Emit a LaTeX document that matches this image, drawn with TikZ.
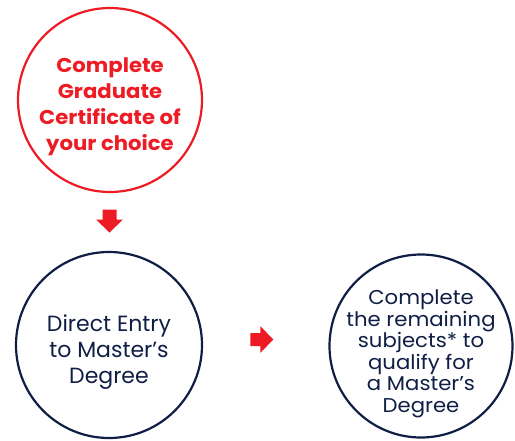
\documentclass[tikz,border=0pt]{standalone}
\usepackage{fontspec}
\setmainfont{Poppins}
\newfontfamily\widebold[FakeStretch=1.06]{Poppins}
\newfontfamily\widereg[FakeStretch=1.06]{Poppins}
\usetikzlibrary{calc}
\definecolor{brandred}{RGB}{237,28,36}
\definecolor{navy}{RGB}{16,30,70}
\begin{document}
\begin{tikzpicture}[x=1pt,y=-1pt,
  stage/.style={circle,draw,line width=2.2pt,inner sep=0pt},
  redstage/.style={stage,draw=brandred,minimum size=184pt},
  navystage/.style={stage,draw=navy},
  stagetext/.style={align=center,inner sep=0pt},
  blockarrow/.style={fill=brandred,draw=none}]
\useasboundingbox (0,0) rectangle (515,440);
\node[redstage] (cert) at (110,100) {};
\node[stagetext,text=brandred,font=\widebold\fontsize{20}{26}\selectfont\bfseries]
  (certtext) at ($(cert.center)+(0,7)$) {Complete\\Graduate\\Certificate of\\your choice};
\node[navystage,minimum size=186pt] (direct) at (109,345) {};
\node[stagetext,text=navy,font=\fontsize{22}{26}\selectfont]
  (directtext) at ($(direct.center)+(0,7)$) {Direct Entry\\to Master’s\\Degree};
\node[navystage,minimum size=183pt] (remain) at (421,346) {};
\node[stagetext,text=navy,font=\widereg\fontsize{20}{21.5}\selectfont]
  (remaintext) at ($(remain.center)+(0,8)$)
  {Complete\\the remaining\\subjects* to\\qualify for\\a Master’s\\Degree};
% down arrow between cert and direct
\coordinate (da) at ($(cert.south)!0.5!(direct.north)+(0,-1)$);
\fill[blockarrow] ($(da)+(-7,-11.5)$) -- ($(da)+(7,-11.5)$) -- ($(da)+(7,-1.5)$)
  -- ($(da)+(13.5,-1.5)$) -- ($(da)+(0,11.5)$) -- ($(da)+(-13.5,-1.5)$)
  -- ($(da)+(-7,-1.5)$) -- cycle;
% right arrow between direct and remain
\coordinate (ra) at ($(direct.east)!0.5!(remain.west)+(-4,-6)$);
\fill[blockarrow] ($(ra)+(-11.5,-6.5)$) -- ($(ra)+(-1.5,-6.5)$) -- ($(ra)+(-1.5,-13.5)$)
  -- ($(ra)+(11.5,0)$) -- ($(ra)+(-1.5,13.5)$) -- ($(ra)+(-1.5,6.5)$)
  -- ($(ra)+(-11.5,6.5)$) -- cycle;
\end{tikzpicture}
\end{document}
